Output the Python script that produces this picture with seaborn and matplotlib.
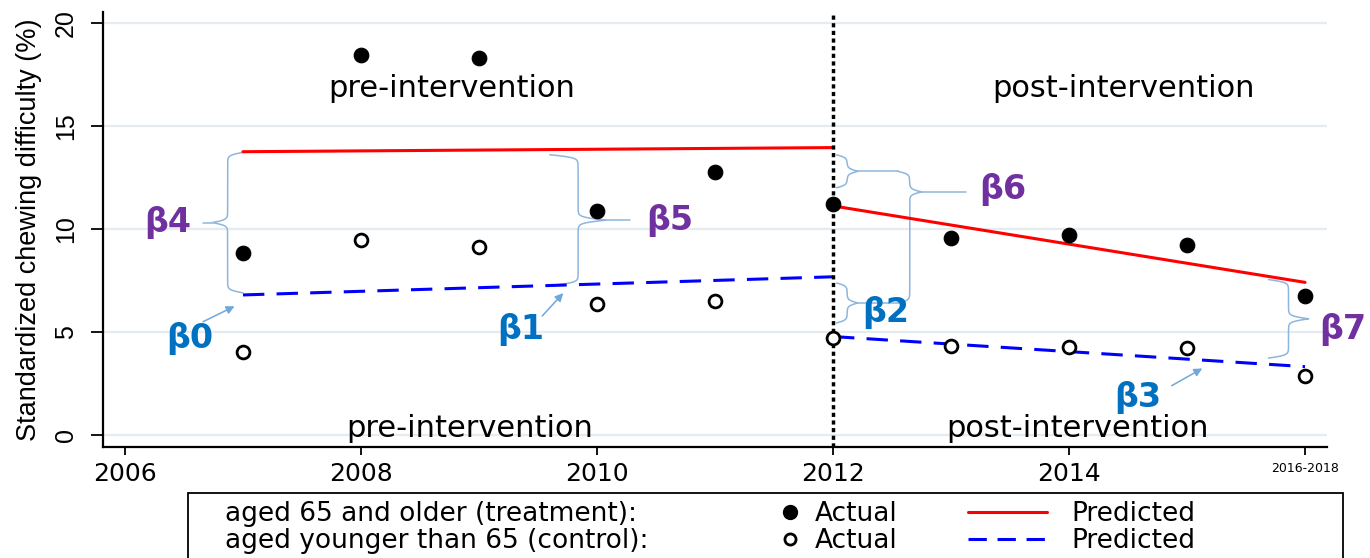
import numpy as np
import matplotlib
matplotlib.use("Agg")
import matplotlib.pyplot as plt
from matplotlib.lines import Line2D
from matplotlib.patches import Rectangle
import seaborn as sns

sns.set_theme(style="white")
plt.rcParams['font.family'] = ['DejaVu Sans']
plt.rcParams.update({"text.color": "black", "axes.labelcolor": "black",
                     "xtick.color": "black", "ytick.color": "black"})

# DATA
years = [2007, 2008, 2009, 2010, 2011, 2012, 2013, 2014, 2015, 2016]
treat_actual = [8.83, 18.45, 18.30, 10.87, 12.77, 11.20, 9.55, 9.70, 9.20, 6.75]
control_actual = [4.04, 9.46, 9.14, 6.36, 6.50, 4.72, 4.30, 4.25, 4.21, 2.89]

pre_years = [2007, 2012]
post_years = [2012, 2016]
treat_pred_pre = [13.75, 13.95]
treat_pred_post = [11.12, 7.41]
control_pred_pre = [6.80, 7.68]
control_pred_post = [4.78, 3.32]

x_ticks = [2006, 2008, 2010, 2012, 2014, 2016]
x_tick_labels = ["2006", "2008", "2010", "2012", "2014", "2016-2018"]
y_ticks = [0, 5, 10, 15, 20]
intervention_year = 2012

PURPLE = "#7030a0"
BLUE_TXT = "#0070c0"
BRACE = "#8db6de"
NARROW = ['Liberation Sans', 'DejaVu Sans']

fig = plt.figure(figsize=(13.7, 5.58), dpi=100)
ax = fig.add_axes([0.0752, 0.1989, 0.8934, 0.7796])

# predicted lines
sns.lineplot(x=pre_years, y=treat_pred_pre, color="red", lw=2.2, ax=ax, zorder=3)
sns.lineplot(x=post_years, y=treat_pred_post, color="red", lw=2.2, ax=ax, zorder=3)
sns.lineplot(x=pre_years, y=control_pred_pre, color="blue", lw=2.2,
             linestyle=(0, (7, 4)), ax=ax, zorder=3)
sns.lineplot(x=post_years, y=control_pred_post, color="blue", lw=2.2,
             linestyle=(0, (7, 4)), ax=ax, zorder=3)

# actual points
sns.scatterplot(x=years, y=treat_actual, color="black", edgecolor="black",
                s=110, ax=ax, zorder=5)
sns.scatterplot(x=years, y=control_actual, color="white", edgecolor="black",
                linewidth=2, s=85, ax=ax, zorder=5)

ax.axvline(intervention_year, color="black", lw=2.5, linestyle=(0, (1.2, 1.0)), zorder=4)

ax.set_xlim(2005.814, 2016.186)
ax.set_ylim(-0.58, 20.53)


def brace(x0, y_lo, y_hi, depth, tip=None, beta=14):
    if tip is None:
        tip = (y_lo + y_hi) / 2
    sig = lambda v: 1 / (1 + np.exp(-v))
    lo = np.linspace(y_lo, tip, 150)
    hi = np.linspace(tip, y_hi, 150)
    x_lo = sig(beta * (lo - y_lo)) + sig(beta * (lo - tip)) - 0.5
    x_hi = sig(beta * (y_hi - hi)) + sig(beta * (tip - hi)) - 0.5
    xs = x0 + depth * np.concatenate([x_lo, x_hi])
    ys = np.concatenate([lo, hi])
    ax.plot(xs, ys, color=BRACE, lw=1.1, zorder=2)
    return x0 + depth, tip


def seg(x1, y1, x2, y2):
    ax.plot([x1, x2], [y1, y2], color=BRACE, lw=1.1, zorder=2)


# beta4: gap between groups before intervention
tx, ty = brace(2007.0, control_pred_pre[0] + 0.1, treat_pred_pre[0] - 0.03, -0.26)
seg(tx, ty, 2006.66, ty)
ax.text(2006.36, ty, "β4", color=PURPLE, fontsize=24, fontweight="bold",
        ha="center", va="center")

# beta5
xb = 2009.6
tx, ty = brace(xb, np.interp(xb, pre_years, control_pred_pre),
               np.interp(xb, pre_years, treat_pred_pre) - 0.25, 0.48)
seg(tx, ty, 2010.28, ty)
ax.text(2010.62, ty, "β5", color=PURPLE, fontsize=24, fontweight="bold",
        ha="center", va="center")

# beta6 (level change difference) and beta2
t6x, t6y = brace(2012.03, treat_pred_post[0] + 0.88, treat_pred_pre[1] - 0.35, 0.18)
t2x, t2y = brace(2012.03, control_pred_post[0] + 0.66, control_pred_pre[1] - 0.3, 0.18)
bx = 2012.55
seg(t6x, t6y, bx, t6y)
seg(t2x, t2y, bx, t2y)
tx, ty = brace(bx, t2y, t6y, 0.2, tip=11.8)
seg(tx, ty, 2013.13, ty)
ax.text(2013.44, 11.9, "β6", color=PURPLE, fontsize=24, fontweight="bold",
        ha="center", va="center")
ax.text(2012.45, 5.97, "β2", color=BLUE_TXT, fontsize=24, fontweight="bold",
        ha="center", va="center")

# beta7
xb = 2015.69
tx, ty = brace(xb, np.interp(xb, post_years, control_pred_post) + 0.3,
               np.interp(xb, post_years, treat_pred_post) - 0.15, 0.34)
ax.text(2016.32, 5.1, "β7", color=PURPLE, fontsize=24, fontweight="bold",
        ha="center", va="center", clip_on=False)

# arrows for beta0, beta1, beta3
arrow = dict(arrowstyle="-|>", color="#6fa8dc", lw=1.1, mutation_scale=12)
ax.annotate("", xy=(2006.95, 6.31), xytext=(2006.64, 5.44), arrowprops=arrow)
ax.text(2006.55, 4.7, "β0", color=BLUE_TXT, fontsize=24, fontweight="bold",
        ha="center", va="center")
ax.annotate("", xy=(2009.73, 6.99), xytext=(2009.52, 5.68), arrowprops=arrow)
ax.text(2009.35, 5.1, "β1", color=BLUE_TXT, fontsize=24, fontweight="bold",
        ha="center", va="center")
ax.annotate("", xy=(2015.15, 3.30), xytext=(2014.85, 2.33), arrowprops=arrow)
ax.text(2014.58, 1.84, "β3", color=BLUE_TXT, fontsize=24, fontweight="bold",
        ha="center", va="center")

# period labels
ax.text(2008.77, 16.84, "pre-intervention", fontsize=22, ha="center", va="center")
ax.text(2014.46, 16.84, "post-intervention", fontsize=22, ha="center", va="center")
ax.text(2008.92, 0.34, "pre-intervention", fontsize=22, ha="center", va="center")
ax.text(2014.07, 0.34, "post-intervention", fontsize=22, ha="center", va="center")

# axes styling
ax.set_yticks(y_ticks)
ax.set_yticklabels([str(v) for v in y_ticks], rotation=90, va="center",
                   family=NARROW, fontsize=18)
ax.set_xticks(x_ticks)
ax.set_xticklabels(x_tick_labels, fontsize=18)
ax.get_xticklabels()[-1].set_fontsize(9)
ax.tick_params(axis="y", left=True, length=9, width=1.3, color="black", pad=9)
ax.tick_params(axis="x", bottom=True, length=6, width=1.3, color="black", pad=5)
ax.yaxis.grid(True, color="#e4ecf1", lw=1.6)
ax.xaxis.grid(False)
ax.set_axisbelow(True)
sns.despine(ax=ax)
for s in ["left", "bottom"]:
    ax.spines[s].set_color("black")
    ax.spines[s].set_linewidth(1.6)
ax.set_ylabel("Standardized chewing difficulty (%)", family=NARROW, fontsize=19.5,
              labelpad=9)

# legend block
fig.patches.append(Rectangle((188 / 1370, -0.05), (1343 - 188) / 1370, 0.05 + 65 / 558,
                             transform=fig.transFigure, fill=False,
                             edgecolor="black", lw=1.3))
blank = Line2D([], [], linestyle="none")
top = 1 - 501 / 558
common = dict(loc="upper left", frameon=False, borderpad=0, borderaxespad=0,
              labelspacing=0.05, fontsize=19)
fig.legend([blank, blank],
           ["aged 65 and older (treatment):", "aged younger than 65 (control):"],
           bbox_to_anchor=(225 / 1370, top), handlelength=0, handletextpad=0,
           **common)
fig.legend([Line2D([], [], marker="o", color="black", linestyle="none", markersize=10),
            Line2D([], [], marker="o", markerfacecolor="white", markeredgecolor="black",
                   markeredgewidth=2, linestyle="none", markersize=8)],
           ["Actual", "Actual"], bbox_to_anchor=(777 / 1370, top),
           handlelength=1.0, handletextpad=0.45, **common)
fig.legend([Line2D([], [], color="red", lw=2.2),
            Line2D([], [], color="blue", lw=2.2, linestyle=(0, (6, 3.5)))],
           ["Predicted", "Predicted"], bbox_to_anchor=(968 / 1370, top),
           handlelength=3.0, handletextpad=0.9, **common)

fig.savefig("out.png", dpi=100)
